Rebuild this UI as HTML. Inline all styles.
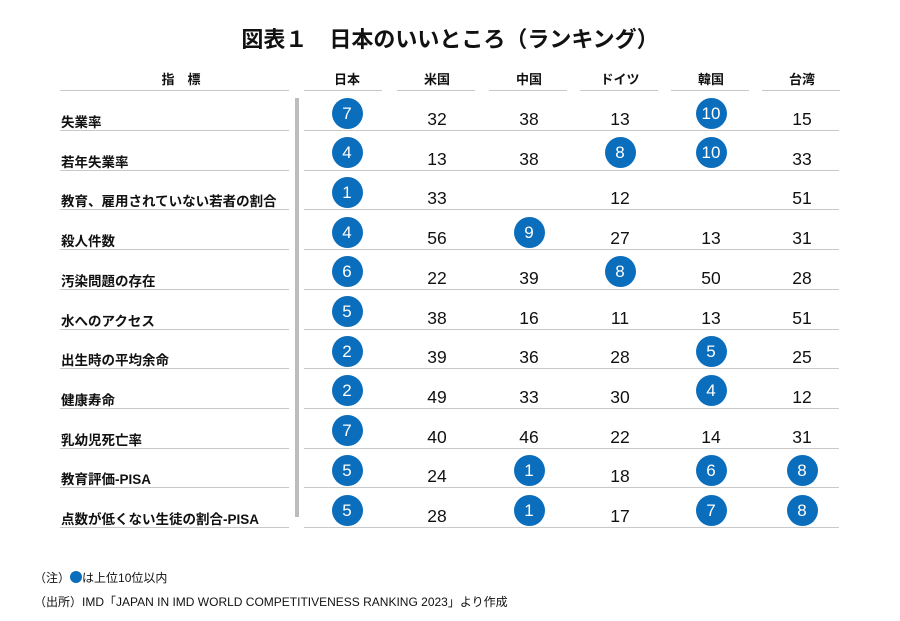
<!DOCTYPE html>
<html><head><meta charset="utf-8"><style>
body{margin:0;background:#fff;width:900px;height:621px;position:relative;font-family:"Liberation Sans","Noto Sans CJK JP",sans-serif;color:#111;overflow:hidden}
.a{position:absolute;white-space:nowrap}
.t{left:0;width:900px;text-align:center;top:22px;font-size:22px;font-weight:bold}
.h{font-size:13px;font-weight:bold;text-align:center;width:80px;top:69px}
.ln{position:absolute;height:1px;background:#c8c8c8}
.lb{font-size:13.5px;font-weight:bold;left:61px}
.n{font-size:17.5px;text-align:center;width:60px}
.c{position:absolute;width:31px;height:31px;border-radius:50%;background:#0a6ebd;color:#fff;font-size:17px;text-align:center;line-height:31px}
.f{font-size:12px;left:34px}
</style></head><body>
<div class="a t">図表１　日本のいいところ（ランキング）</div>
<div class="a h" style="left:141px">指　標</div>
<div class="a h" style="left:307px">日本</div>
<div class="a h" style="left:397px">米国</div>
<div class="a h" style="left:489px">中国</div>
<div class="a h" style="left:580px">ドイツ</div>
<div class="a h" style="left:671px">韓国</div>
<div class="a h" style="left:762px">台湾</div>
<div class="ln" style="left:60px;width:229px;top:90px"></div>
<div class="ln" style="left:304px;width:78px;top:90px"></div>
<div class="ln" style="left:397px;width:78px;top:90px"></div>
<div class="ln" style="left:489px;width:78px;top:90px"></div>
<div class="ln" style="left:580px;width:78px;top:90px"></div>
<div class="ln" style="left:671px;width:78px;top:90px"></div>
<div class="ln" style="left:762px;width:78px;top:90px"></div>
<div class="a" style="left:295px;top:98px;width:4px;height:419px;background:#bdbdbd"></div>
<div id="rows"></div>
<div class="a f" style="top:569px">（注）<span style="display:inline-block;width:12px;height:12px;border-radius:50%;background:#0a6ebd;vertical-align:-1px"></span>は上位10位以内</div>
<div class="a f" style="top:593px">（出所）IMD「JAPAN IN IMD WORLD COMPETITIVENESS RANKING 2023」より作成</div>
<script>
var d=[["失業率",7,32,38,13,10,15],["若年失業率",4,13,38,8,10,33],["教育、雇用されていない若者の割合",1,33,"",12,"",51],["殺人件数",4,56,9,27,13,31],["汚染問題の存在",6,22,39,8,50,28],["水へのアクセス",5,38,16,11,13,51],["出生時の平均余命",2,39,36,28,5,25],["健康寿命",2,49,33,30,4,12],["乳幼児死亡率",7,40,46,22,14,31],["教育評価-PISA",5,24,1,18,6,8],["点数が低くない生徒の割合-PISA",5,28,1,17,7,8]];
var cx=[347,437,529,620,711,802],h="";
d.forEach(function(r,i){var y=98+i*39.7;
h+='<div class="a lb" style="top:'+(y+13)+'px">'+r[0]+'</div>';
h+='<div class="ln" style="left:60px;width:229px;top:'+(y+32)+'px"></div>';
h+='<div class="ln" style="left:304px;width:535px;top:'+(y+32)+'px"></div>';
for(var j=1;j<7;j++){var v=r[j];if(v==="")continue;
if(v<=10)h+='<div class="c" style="left:'+(cx[j-1]-15.5)+'px;top:'+(y-0.5)+'px">'+v+'</div>';
else h+='<div class="a n" style="left:'+(cx[j-1]-30)+'px;top:'+(y+11)+'px">'+v+'</div>';}
});
document.getElementById("rows").innerHTML=h;
</script>
</body></html>
